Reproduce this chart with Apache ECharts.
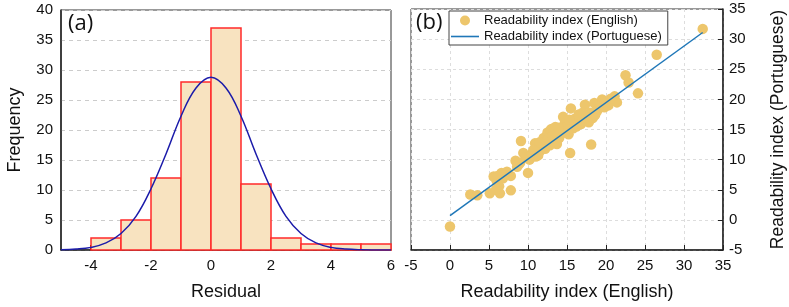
<!DOCTYPE html>
<html>
<head>
<meta charset="utf-8">
<script src="https://cdn.jsdelivr.net/npm/echarts@6/dist/echarts.min.js"></script>
<style>html,body{margin:0;padding:0;background:#fff}#c{width:789px;height:307px}</style>
</head>
<body>
<div id="c"></div>
<script>
// Histogram (a)
const binStart = [-4, -3, -2, -1, 0, 1, 2, 3, 4, 5];
const binEnd   = [-3, -2, -1, 0, 1, 2, 3, 4, 5, 6];
const binCount = [2, 5, 12, 28, 37, 11, 2, 1, 1, 1];
// Fitted normal curve
const curveX = [-5, -4.5, -4, -3.5, -3, -2.5, -2, -1.5, -1, -0.5, 0, 0.5, 1, 1.5, 2, 2.5, 3, 3.5, 4, 4.5, 5, 5.5, 6];
const curveY = [0.04, 0.15, 0.44, 1.18, 2.75, 5.6, 10.2, 16.0, 22.3, 27.0, 28.8, 27.0, 22.3, 16.0, 10.2, 5.6, 2.75, 1.18, 0.44, 0.15, 0.04, 0.01, 0.0];
const histXLabels = [-4, -2, 0, 2, 4, 6];
const histXTicks = [-4, -2, 0, 2, 4];

// Scatter (b)
const english = [0, 2.6, 3.5, 5.1, 6.4, 7.8, 5.6, 6.0, 6.3, 6.6, 7.0, 7.8, 5.9, 6.8,
  8.4, 8.8, 9.1, 9.4, 9.7, 10.0, 10.2, 10.5, 10.9, 11.1, 11.3, 11.6, 11.8, 12.0, 12.2, 12.4,
  12.5, 12.7, 12.9, 13.0, 13.2, 13.3, 13.5, 13.7, 13.8, 14.0, 14.2, 14.4, 14.5, 14.7, 14.9,
  15.0, 15.2, 15.4, 15.5, 15.6, 15.8, 16.0, 16.2, 16.4, 16.6, 16.9, 17.2, 17.3, 17.5, 17.8,
  18.0, 18.1, 18.3, 18.5, 18.6, 18.8, 19.0, 19.3, 19.5, 19.8, 20.0, 20.3, 21.1, 21.4, 22.5,
  22.9, 24.1, 26.5, 32.4,
  11.0, 12.3, 12.6, 13.1, 13.4, 12.8, 11.5, 10.7, 14.1, 15.1, 16.8, 9.0, 8.6, 19.6, 20.6,
  7.3, 6.1, 17.0, 13.9, 15.3, 16.5];
const portuguese = [-1.1, 4.2, 4.1, 4.4, 4.4, 4.9, 7.2, 6.4, 5.6, 7.8, 7.5, 7.3, 5.0, 6.9,
  9.8, 9.2, 13.1, 11.1, 10.4, 7.8, 10.0, 11.0, 12.7, 12.3, 10.7, 11.5, 12.1, 13.6, 11.8, 13.8,
  14.5, 13.2, 14.9, 15.1, 14.3, 13.0, 15.4, 12.6, 14.0, 13.6, 15.0, 14.4, 17.1, 16.0, 14.6,
  15.6, 14.2, 11.1, 18.5, 16.3, 15.2, 16.8, 15.5, 16.1, 16.7, 17.0, 16.4, 19.1, 17.3, 16.2,
  17.8, 12.5, 16.9, 19.4, 17.4, 18.0, 18.4, 19.0, 20.0, 18.7, 19.2, 19.0, 20.5, 19.5, 24.0,
  22.8, 21.0, 27.4, 31.7,
  10.5, 12.8, 13.5, 13.9, 14.6, 12.4, 12.9, 11.6, 14.9, 15.0, 15.9, 9.5, 8.8, 19.6, 20.1,
  8.0, 7.3, 17.8, 15.3, 16.6, 17.5];
// Fitted line endpoints
const fitX = [0, 32.4];
const fitY = [0.7, 31.1];

const FONT = 'Liberation Sans, Arial, sans-serif';
const chart = echarts.init(document.getElementById('c'), null, {renderer: 'canvas'});

const histData = binStart.map((s, i) => [s, binEnd[i], binCount[i]]);
const curveData = curveX.map((x, i) => [x, curveY[i]]);
const scatterData = english.map((x, i) => [x, portuguese[i]]);
const fitData = fitX.map((x, i) => [x, fitY[i]]);

const labelStyle = {color: '#111', fontSize: 15, fontFamily: FONT};
const nameStyle = {color: '#111', fontSize: 18, fontFamily: FONT};

chart.setOption({
  animation: false,
  backgroundColor: '#fff',
  grid: [
    {left: 61, top: 10, width: 330, height: 240, show: true, borderColor: '#333', borderWidth: 1, backgroundColor: 'transparent'},
    {left: 411, top: 9, width: 312, height: 241, show: true, borderColor: '#333', borderWidth: 1, backgroundColor: 'transparent'}
  ],
  xAxis: [
    {gridIndex: 0, type: 'value', min: -5, max: 6, interval: 1,
     name: 'Residual', nameLocation: 'middle', nameGap: 33, nameTextStyle: nameStyle,
     axisLine: {onZero: false, lineStyle: {color: '#222', width: 1.5}},
     axisTick: {show: true, inside: true, length: 5, customValues: histXTicks, lineStyle: {color: '#111', width: 2}},
     axisLabel: Object.assign({customValues: histXLabels, margin: 8}, labelStyle),
     splitLine: {show: false}},
    {gridIndex: 1, type: 'value', min: -5, max: 35, interval: 5,
     name: 'Readability index (English)', nameLocation: 'middle', nameGap: 33, nameTextStyle: nameStyle,
     axisLine: {onZero: false, lineStyle: {color: '#222', width: 1.5}},
     axisTick: {show: true, inside: true, length: 5, lineStyle: {color: '#222', width: 1}},
     axisLabel: Object.assign({margin: 8}, labelStyle),
     splitLine: {show: true, lineStyle: {color: '#ddd', type: [3, 3], width: 1}}}
  ],
  yAxis: [
    {gridIndex: 0, type: 'value', min: 0, max: 40, interval: 5,
     name: 'Frequency', nameLocation: 'middle', nameGap: 37, nameTextStyle: nameStyle,
     axisLine: {show: true, onZero: false, lineStyle: {color: '#222', width: 1.5}},
     axisTick: {show: false},
     axisLabel: Object.assign({margin: 8}, labelStyle),
     splitLine: {show: true, lineStyle: {color: '#ccc', type: [4, 4], width: 1}}},
    {gridIndex: 1, type: 'value', min: -5, max: 35, interval: 5, position: 'right',
     name: 'Readability index (Portuguese)', nameLocation: 'middle', nameGap: 46, nameRotate: 90,
     nameTextStyle: {color: '#111', fontSize: 17.5, fontFamily: FONT},
     axisLine: {show: true, onZero: false, lineStyle: {color: '#222', width: 1.5}},
     axisTick: {show: true, inside: true, length: 5, lineStyle: {color: '#222', width: 1}},
     axisLabel: Object.assign({margin: 6}, labelStyle),
     splitLine: {show: true, lineStyle: {color: '#ddd', type: [3, 3], width: 1}}}
  ],
  legend: {
    orient: 'vertical', left: 449, top: 11,
    data: [
      {name: 'Readability index (English)', icon: 'circle'},
      {name: 'Readability index (Portuguese)', icon: 'path://M0,0 L28,0 L28,1.6 L0,1.6 Z'}
    ],
    itemWidth: 28, itemHeight: 10, itemGap: 3,
    padding: [3, 6, 2, 2],
    borderColor: '#444', borderWidth: 1, backgroundColor: '#fff',
    textStyle: {color: '#111', fontSize: 13, fontFamily: FONT}
  },
  graphic: [
    {type: 'text', left: 68, top: 13, style: {text: '(a)', fontSize: 22, fontFamily: 'Open Sans, sans-serif', fill: '#111'}},
    {type: 'text', left: 416, top: 12, style: {text: '(b)', fontSize: 22, fontFamily: 'Open Sans, sans-serif', fill: '#111'}}
  ],
  series: [
    {type: 'custom', xAxisIndex: 0, yAxisIndex: 0, z: 2,
     encode: {x: [0, 1], y: 2},
     data: histData,
     renderItem: function (params, api) {
       const p0 = api.coord([api.value(0), api.value(2)]);
       const p1 = api.coord([api.value(1), 0]);
       return {type: 'rect',
         shape: {x: p0[0], y: p0[1], width: p1[0] - p0[0], height: p1[1] - p0[1]},
         style: {fill: '#F8E3C0', stroke: '#FF2A2A', lineWidth: 1.5}};
     }},
    {type: 'line', xAxisIndex: 0, yAxisIndex: 0, z: 3, data: curveData, smooth: 0.4,
     showSymbol: false, lineStyle: {color: '#1c1caa', width: 1.5}},
    {name: 'Readability index (English)', type: 'scatter', xAxisIndex: 1, yAxisIndex: 1,
     data: scatterData, symbolSize: 10.5, itemStyle: {color: '#EDC66C', opacity: 1}, z: 3},
    {name: 'Readability index (Portuguese)', type: 'line', xAxisIndex: 1, yAxisIndex: 1,
     data: fitData, showSymbol: false, symbol: 'none', lineStyle: {color: '#1f77b8', width: 1.5},
     itemStyle: {color: '#1f77b8'}, z: 4}
  ]
});
</script>
</body>
</html>
